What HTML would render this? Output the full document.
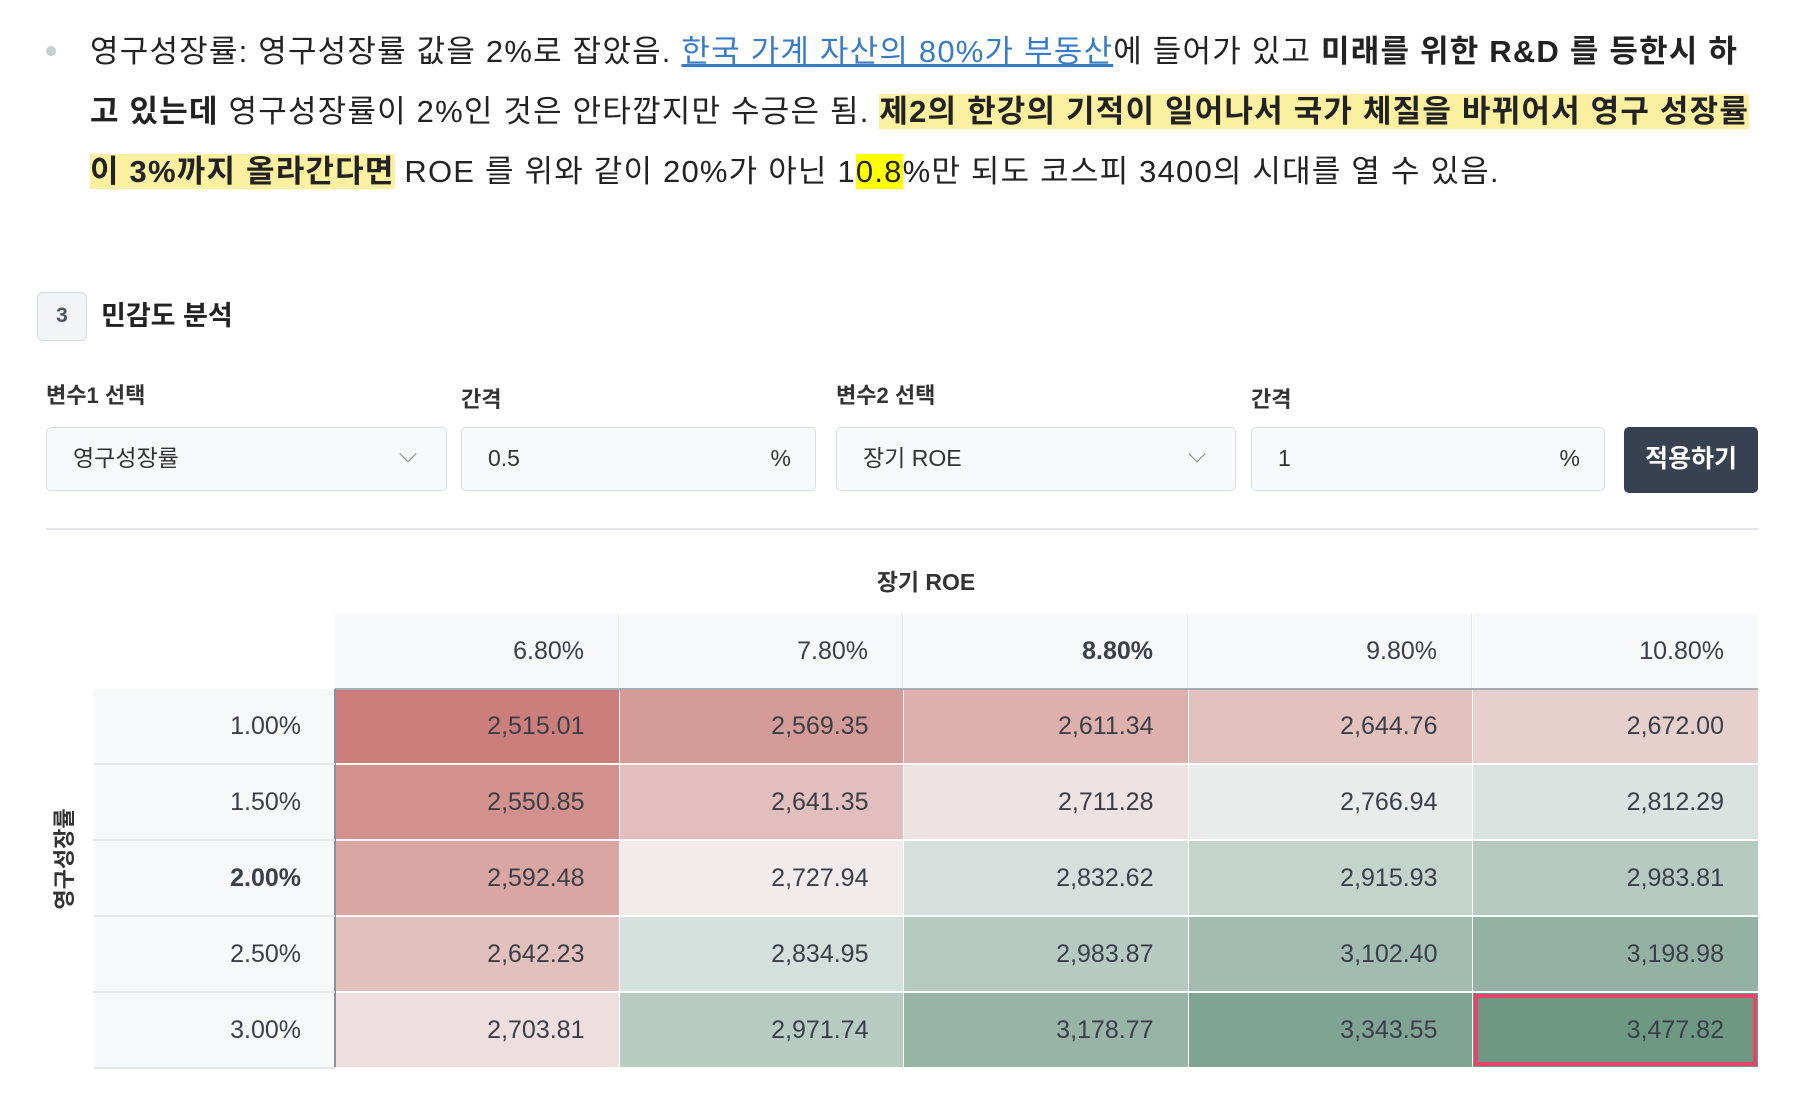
<!DOCTYPE html>
<html><head><meta charset="utf-8">
<style>
*{box-sizing:border-box;margin:0;padding:0}
body{width:1794px;height:1102px;background:#fff;position:relative;overflow:hidden;font-family:"Liberation Sans","Noto Sans CJK KR",sans-serif;color:#1f2937}
.abs{position:absolute}
.line{position:absolute;left:90px;font-size:31px;letter-spacing:1.2px;white-space:nowrap;height:42px;line-height:42px;color:#222}
.hl{background:#fbf0a0}
.hl2{background:#ffff00}
b{font-weight:700}
a{color:#3a7bc8;text-decoration:underline}
.lbl{position:absolute;font-size:22px;font-weight:700;color:#333;top:378px}
.inp{position:absolute;top:427px;height:64px;background:#f8f9fb;border:1.5px solid #d9dde3;border-radius:5px;font-size:23px;line-height:61px;padding-left:26px;color:#333}
.unit{position:absolute;right:24px;top:0}
.chev{position:absolute;right:32px;top:20px;width:12px;height:12px;border-right:1.5px solid #888;border-bottom:1.5px solid #888;transform:rotate(45deg)}
.cell{position:absolute;font-size:25px;text-align:right;padding-right:34px;color:#3a3f48}
</style></head><body>
<div class="abs" style="left:46px;top:46px;width:10px;height:10px;border-radius:5px;background:#c9cdd4"></div>
<div class="line" style="top:31px">영구성장률: 영구성장률 값을 2%로 잡았음. <a>한국 가계 자산의 80%가 부동산</a>에 들어가 있고 <b>미래를 위한 R&amp;D 를 등한시 하</b></div>
<div class="line" style="top:91px"><b>고 있는데</b> 영구성장률이 2%인 것은 안타깝지만 수긍은 됨. <b class="hl">제2의 한강의 기적이 일어나서 국가 체질을 바뀌어서 영구 성장률</b></div>
<div class="line" style="top:151px"><b class="hl">이 3%까지 올라간다면</b> ROE 를 위와 같이 20%가 아닌 1<span class="hl2">0.8</span>%만 되도 코스피 3400의 시대를 열 수 있음.</div>

<div class="abs" style="left:37px;top:292px;width:50px;height:49px;border:1.5px solid #d5d9df;border-radius:6px;background:#f3f4f6;text-align:center;line-height:46px;font-size:21px;font-weight:700;color:#4b5563">3</div>
<div class="abs" style="left:101px;top:296px;font-size:27px;font-weight:700;line-height:40px;color:#222">민감도 분석</div>

<div class="lbl" style="left:46px">변수1 선택</div>
<div class="lbl" style="left:461px;top:382px">간격</div>
<div class="lbl" style="left:836px">변수2 선택</div>
<div class="lbl" style="left:1251px;top:382px">간격</div>

<div class="inp" style="left:46px;width:401px">영구성장률<span class="chev"></span></div>
<div class="inp" style="left:461px;width:355px">0.5<span class="unit">%</span></div>
<div class="inp" style="left:836px;width:400px">장기 ROE<span class="chev"></span></div>
<div class="inp" style="left:1251px;width:354px">1<span class="unit">%</span></div>
<div class="abs" style="left:1624px;top:427px;width:134px;height:66px;background:#374151;border-radius:5px;color:#fff;font-size:25px;font-weight:700;text-align:center;line-height:64px">적용하기</div>

<div class="abs" style="left:46px;top:528px;width:1712px;height:2px;background:#e5e7eb"></div>

<div class="abs" style="left:826px;top:563px;width:200px;text-align:center;font-size:23px;font-weight:700;color:#333">장기 ROE</div>
<div class="abs" style="left:-37px;top:843px;width:200px;text-align:center;font-size:22px;font-weight:700;color:#333;transform:rotate(-90deg)">영구성장률</div>

<div id="table"></div>

<script>
const colLabels=["6.80%","7.80%","8.80%","9.80%","10.80%"];
const rowLabels=["1.00%","1.50%","2.00%","2.50%","3.00%"];
const row1=[2515.01,2569.35,2611.34,2644.76,2672.00];
const row2=[2550.85,2641.35,2711.28,2766.94,2812.29];
const row3=[2592.48,2727.94,2832.62,2915.93,2983.81];
const row4=[2642.23,2834.95,2983.87,3102.40,3198.98];
const row5=[2703.81,2971.74,3178.77,3343.55,3477.82];
const values=[row1,row2,row3,row4,row5];
const boldCol=2, boldRow=2, highlightRow=4, highlightCol=4;

const T=document.getElementById('table');
const cw=284.6, rh=76;
const colX=i=>Math.round(335+i*cw);
const colW=i=>Math.round(335+(i+1)*cw)-colX(i);
const rowY=i=>689+i*76;
const all=values.flat();
const vmin=Math.min(...all), vmax=Math.max(...all), vmid=2745;
const W=[244,244,245], R=[204,127,122], G=[110,152,132];
function color(v){
  let t,c,p;
  if(v<vmid){t=(vmid-v)/(vmid-vmin);c=R;p=1}else{t=(v-vmid)/(vmax-vmid);c=G;p=0.7}
  t=Math.pow(Math.min(1,Math.max(0,t)),p);
  return 'rgb('+W.map((w,k)=>Math.round(w+(c[k]-w)*t)).join(',')+')';
}
function fmt(v){return v.toLocaleString('en-US',{minimumFractionDigits:2,maximumFractionDigits:2})}
function mk(x,y,w,h,bg,txt,bold){
  const d=document.createElement('div');
  d.className='cell';
  d.style.cssText+=`left:${x}px;top:${y}px;width:${w}px;height:${h}px;line-height:${h}px;background:${bg};font-weight:${bold?700:400}`;
  d.textContent=txt;T.appendChild(d);return d;
}
colLabels.forEach((c,i)=>{
  const d=mk(colX(i),614,colW(i)-(i<4?1:0),75,'#f7f8fa',c,i===boldCol);
  
  
  if(i<4)d.style.borderRight='1px solid #e5e7eb';
});
rowLabels.forEach((r,j)=>{
  const d=mk(94,rowY(j),241,rh-2,'#f7f8fa',r,j===boldRow);
  
  
  values[j].forEach((v,i)=>{
    const c=mk(colX(i),rowY(j),colW(i)-(i<4?1.5:0),rh-2,color(v),fmt(v),false);
    
    
    if(j===highlightRow&&i===highlightCol){c.style.outline='4px solid #e0456b';c.style.outlineOffset='-5px'}
  });
});
const hdrLine=document.createElement('div');
hdrLine.className='abs';
hdrLine.style.cssText='left:335px;top:688px;width:1423px;height:2px;background:#a7adb7';


T.appendChild(hdrLine);
const vLine=document.createElement('div');
vLine.className='abs';
vLine.style.cssText='left:334px;top:689px;width:1.5px;height:378px;background:#8a919c';


T.appendChild(vLine);
for(let j=1;j<=5;j++){
  const l=document.createElement('div');
  l.className='abs';
  l.style.cssText=`left:94px;top:${rowY(j)-2}px;width:241px;height:2px;background:#e5e7eb`;
  
  
  T.appendChild(l);
}
</script>
</body></html>
